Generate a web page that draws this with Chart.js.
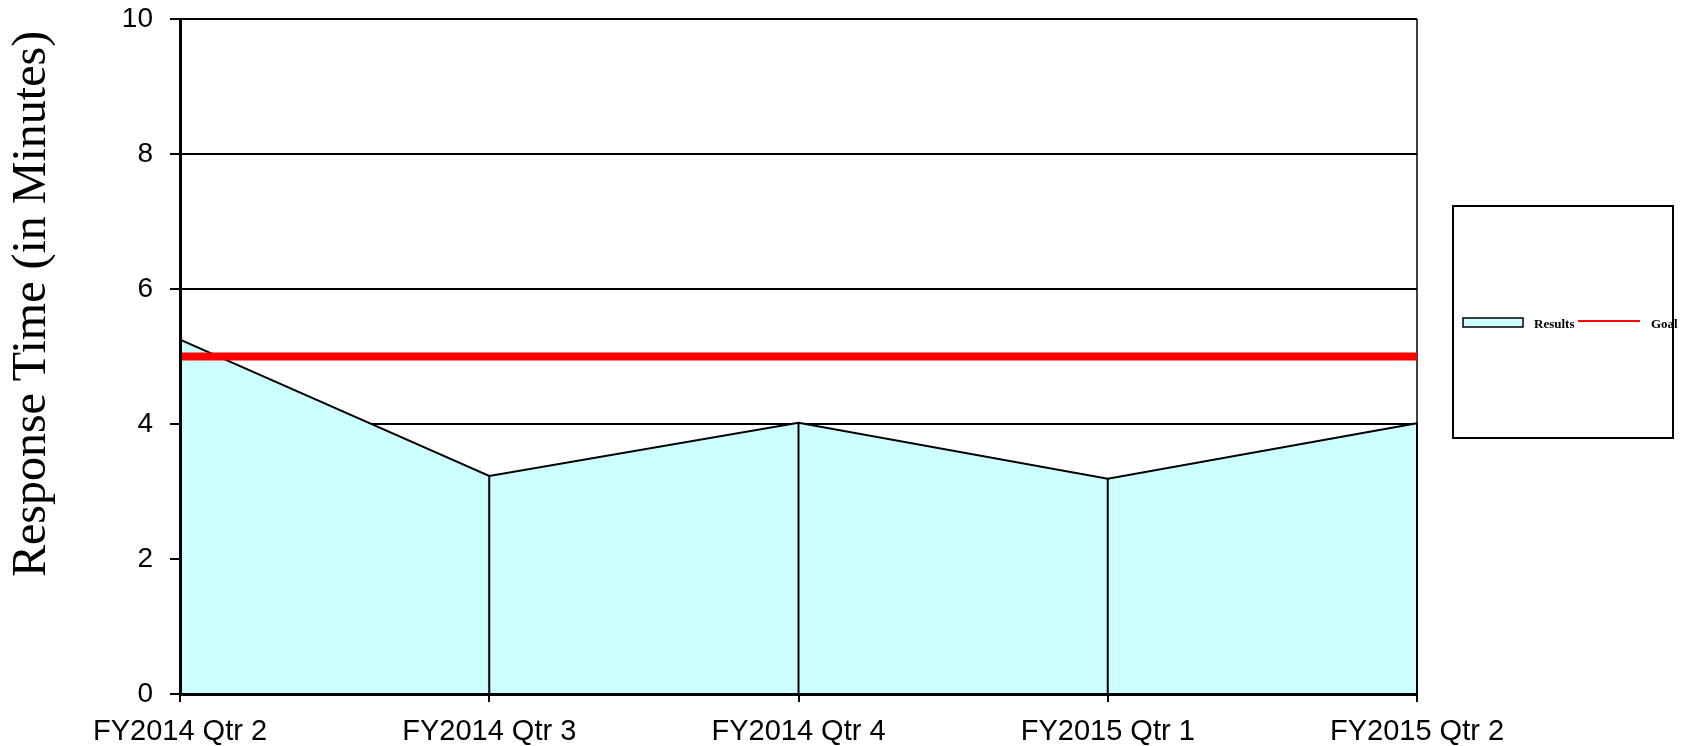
<!DOCTYPE html>
<html>
<head>
<meta charset="utf-8">
<title>Response Time</title>
<script src="https://cdn.jsdelivr.net/npm/chart.js@4/dist/chart.umd.min.js"></script>
<style>
    html, body { margin: 0; padding: 0; background: #ffffff; }
    #wrap { width: 1687px; height: 746px; position: relative; }
</style>
</head>
<body>
<div id="wrap"><canvas id="responseChart"></canvas></div>
<script>
var quarters = ["FY2014 Qtr 2", "FY2014 Qtr 3", "FY2014 Qtr 4", "FY2015 Qtr 1", "FY2015 Qtr 2"];
var results = [5.25, 3.23, 4.02, 3.19, 4.01];
var goal = [5, 5, 5, 5, 5];
var yTicks = [0, 2, 4, 6, 8, 10];
var yTitle = "Response Time (in Minutes)";

var cyan = "#CCFFFF";
var red = "#FF0000";
var black = "#000000";

// vertical drop lines from each Results point down to zero, plus the right edge of the plot
var dropLines = {
    id: 'dropLines',
    afterDatasetDraw: function (chart, args) {
        if (args.index !== 1) return;
        var ctx = chart.ctx;
        var area = chart.chartArea;
        var yScale = chart.scales.y;
        ctx.save();
        ctx.strokeStyle = black;
        ctx.lineWidth = 2;
        args.meta.data.forEach(function (pt) {
            ctx.beginPath();
            ctx.moveTo(pt.x, pt.y);
            ctx.lineTo(pt.x, yScale.getPixelForValue(0));
            ctx.stroke();
        });
        ctx.lineWidth = 1.5;
        ctx.beginPath();
        ctx.moveTo(area.right, area.top);
        ctx.lineTo(area.right, area.bottom);
        ctx.stroke();
        ctx.restore();
    }
};

// axis title and boxed legend
var sideText = {
    id: 'sideText',
    afterDraw: function (chart) {
        var ctx = chart.ctx;
        ctx.save();
        ctx.fillStyle = black;
        ctx.font = '48px "Liberation Serif", "Times New Roman", serif';
        ctx.textAlign = 'center';
        ctx.textBaseline = 'middle';
        ctx.translate(32, 304);
        ctx.rotate(-Math.PI / 2);
        ctx.fillText(yTitle, 0, 0);
        ctx.restore();

        var ds = chart.data.datasets;
        ctx.save();
        ctx.strokeStyle = black;
        ctx.lineWidth = 2;
        ctx.strokeRect(1453, 206, 220, 232);

        ctx.fillStyle = ds[1].backgroundColor;
        ctx.fillRect(1463, 318, 60, 9);
        ctx.lineWidth = 1.5;
        ctx.strokeRect(1463, 318, 60, 9);

        ctx.strokeStyle = ds[0].borderColor;
        ctx.lineWidth = 2;
        ctx.beginPath();
        ctx.moveTo(1578, 321);
        ctx.lineTo(1640, 321);
        ctx.stroke();

        ctx.fillStyle = black;
        ctx.font = 'bold 13px "Liberation Serif", "Times New Roman", serif';
        ctx.textAlign = 'left';
        ctx.textBaseline = 'alphabetic';
        ctx.fillText(ds[1].label, 1534, 328);
        ctx.fillText(ds[0].label, 1651, 328);
        ctx.restore();
    }
};

var ctx = document.getElementById('responseChart');
var chart = new Chart(ctx, {
    type: 'line',
    data: {
        labels: quarters,
        datasets: [
            {
                label: "Goal",
                data: goal,
                borderColor: red,
                borderWidth: 8,
                pointRadius: 0,
                fill: false,
                order: 0
            },
            {
                label: "Results",
                data: results,
                borderColor: black,
                borderWidth: 2,
                backgroundColor: cyan,
                pointRadius: 0,
                fill: 'origin',
                tension: 0,
                order: 1
            }
        ]
    },
    plugins: [dropLines, sideText],
    options: {
        responsive: true,
        maintainAspectRatio: false,
        animation: false,
        layout: {
            padding: { left: 0, right: 270, top: 19, bottom: 0 }
        },
        plugins: {
            legend: { display: false },
            tooltip: { enabled: false }
        },
        scales: {
            x: {
                offset: false,
                grid: {
                    drawOnChartArea: false,
                    drawTicks: true,
                    tickLength: 8,
                    color: black,
                    lineWidth: 2
                },
                border: { display: true, color: black, width: 3, z: 1 },
                ticks: {
                    color: black,
                    padding: 13,
                    maxRotation: 0,
                    autoSkip: false,
                    font: { family: '"Liberation Sans", Arial, sans-serif', size: 29 }
                },
                afterFit: function (scale) { scale.height = 52; }
            },
            y: {
                min: 0,
                max: 10,
                afterBuildTicks: function (scale) {
                    scale.ticks = yTicks.map(function (v) { return { value: v }; });
                },
                grid: {
                    color: black,
                    lineWidth: 2,
                    tickLength: 10
                },
                border: { display: true, color: black, width: 3, z: 1 },
                ticks: {
                    color: black,
                    padding: 17,
                    font: { family: '"Liberation Sans", Arial, sans-serif', size: 28 }
                },
                afterFit: function (scale) {
                    scale.width = 180;
                    scale.paddingTop = 0;
                    scale.paddingBottom = 0;
                }
            }
        }
    }
});
</script>
</body>
</html>
